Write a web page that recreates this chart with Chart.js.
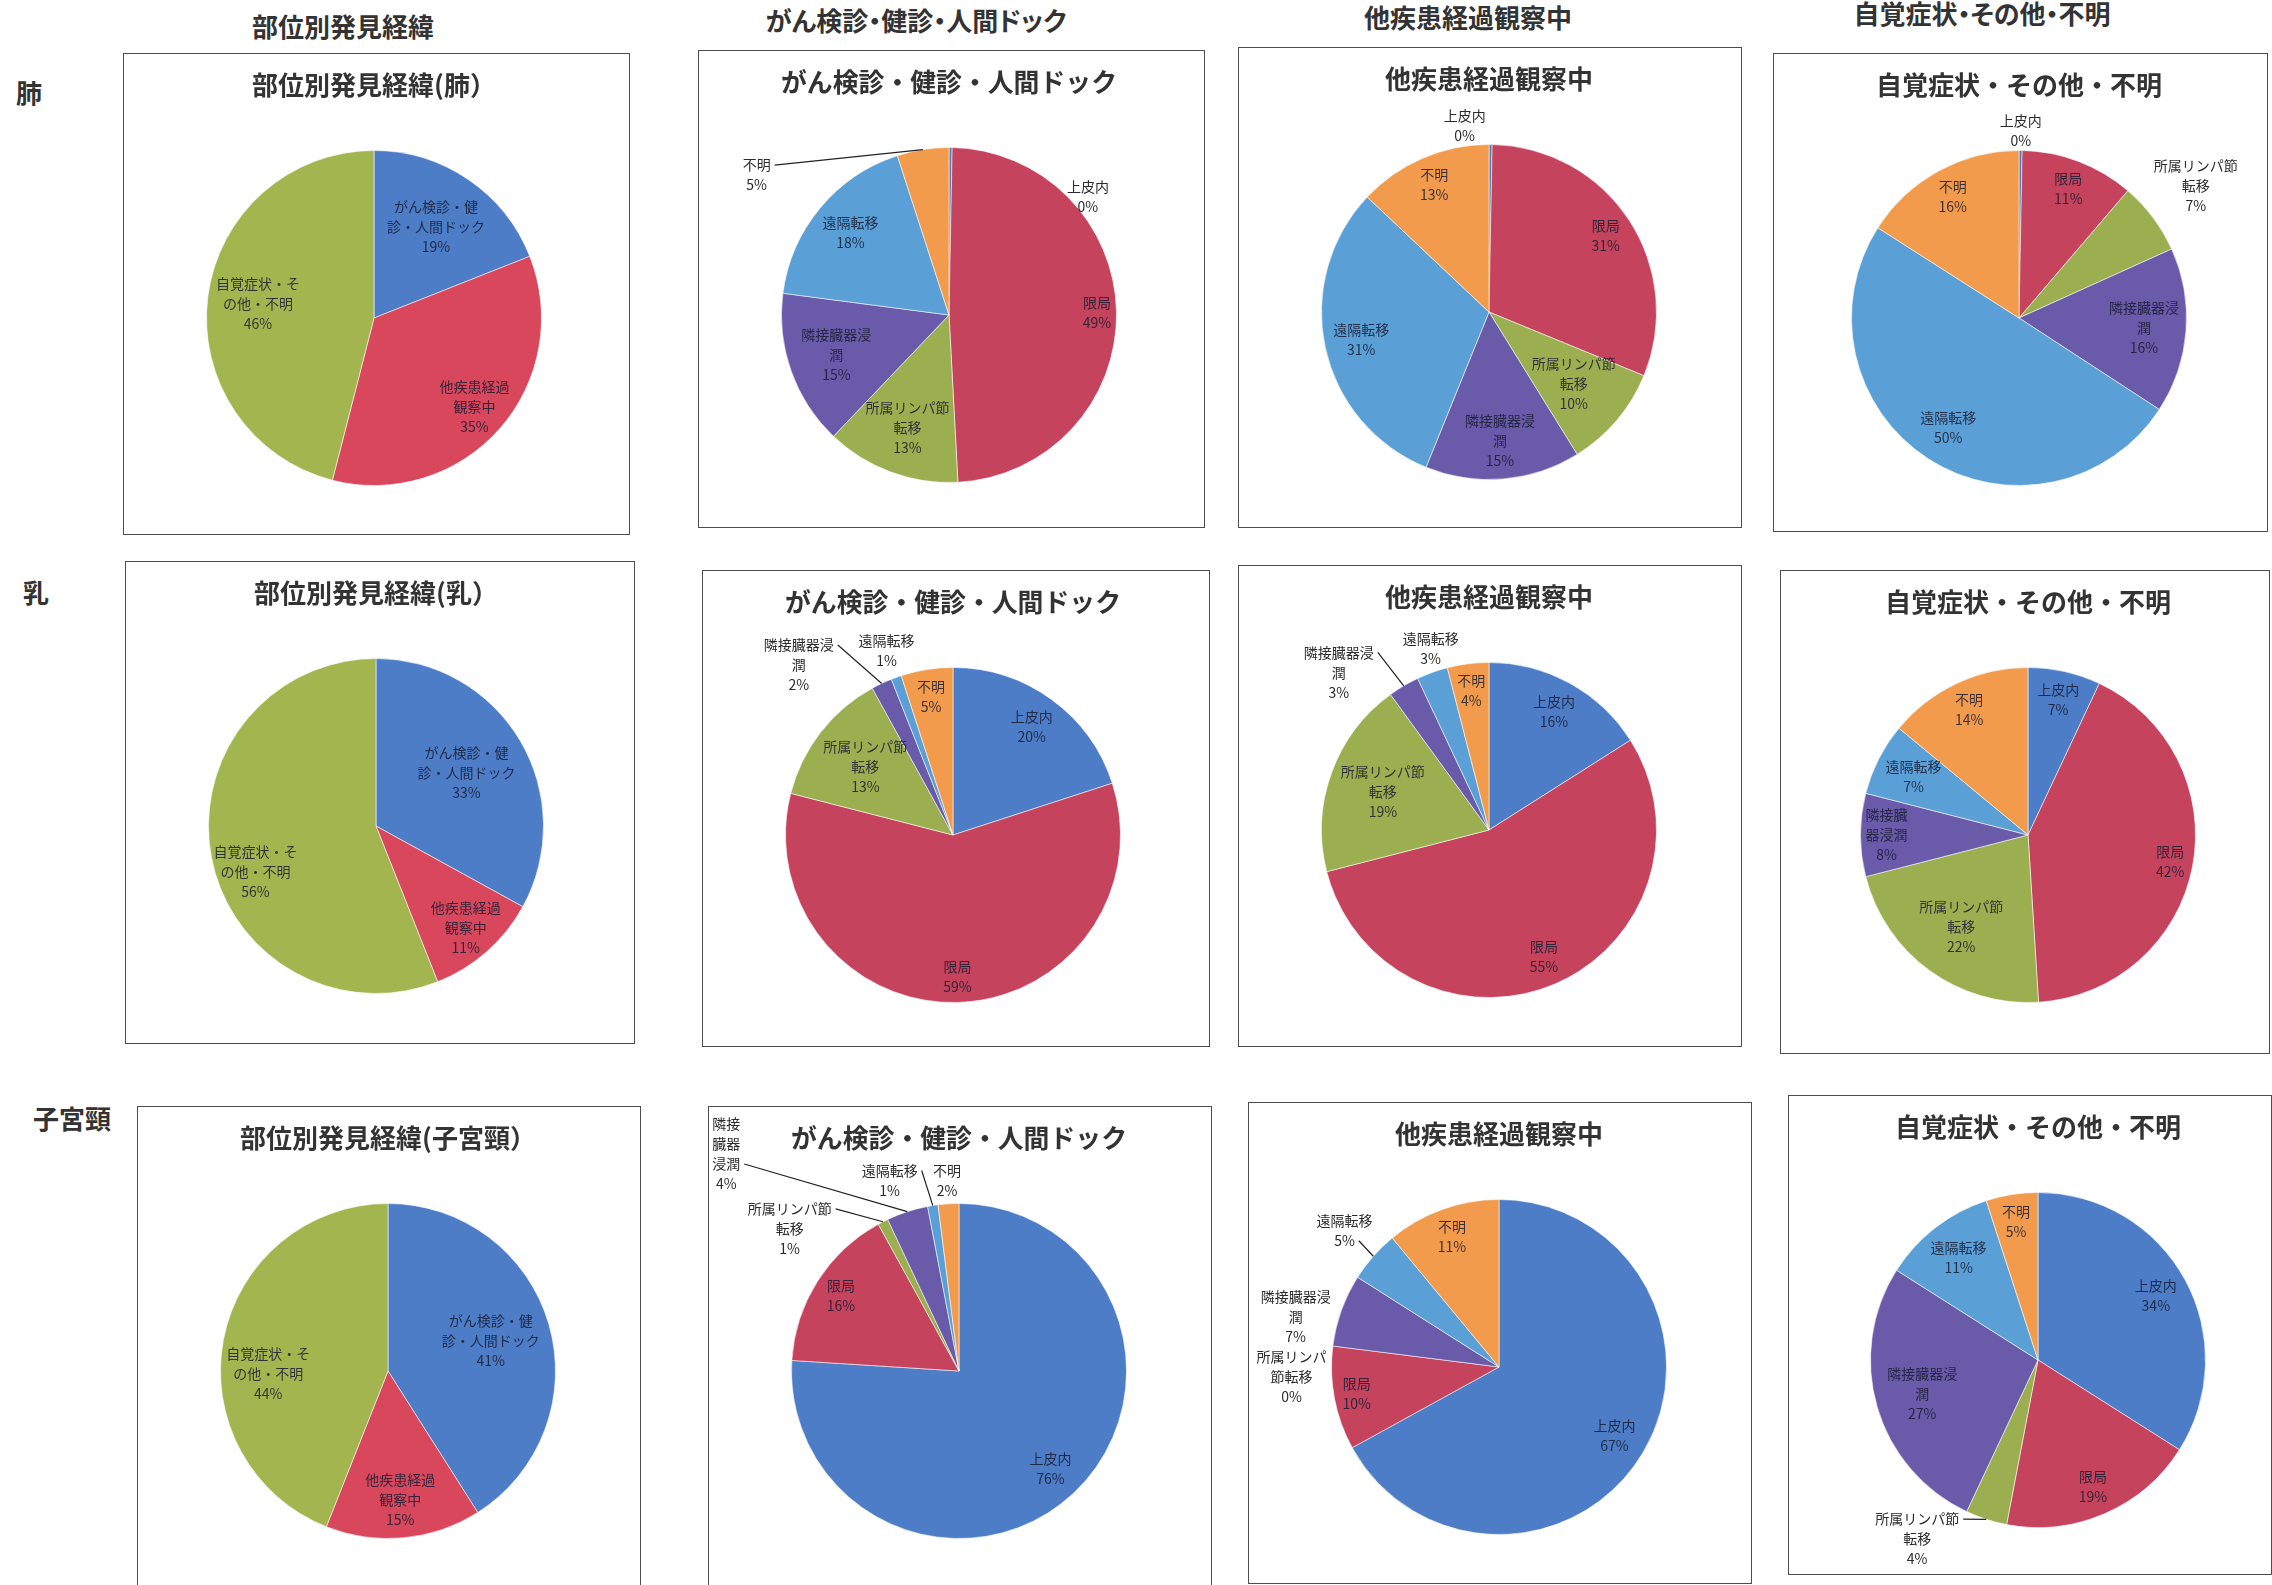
<!DOCTYPE html>
<html lang="ja">
<head>
<meta charset="utf-8">
<title>部位別発見経緯</title>
<script src="https://cdn.jsdelivr.net/npm/chart.js@4.4.1/dist/chart.umd.min.js"></script>
<style>
  html, body { margin: 0; padding: 0; background: #fff; }
  #page { position: relative; width: 2272px; height: 1585px; overflow: hidden;
          font-family: "Noto Sans CJK JP", "Noto Sans", sans-serif; color: #333; }
  .head { position: absolute; font-weight: bold; font-size: 26px; white-space: nowrap;
          font-feature-settings: "palt"; transform: translate(-50%, -50%); }
  .panel { position: absolute; box-sizing: border-box; border: 1.5px solid #4d4d4d; background: #fff; }
  .panel canvas { position: absolute; left: 0; top: 0; }
</style>
</head>
<body>
<div id="page"></div>
<script>
const FONT = '"Noto Sans CJK JP", "Noto Sans", sans-serif';

// categories
const routeCategories = ['がん検診・健診・人間ドック', '他疾患経過観察中', '自覚症状・その他・不明'];
const stageCategories = ['上皮内', '限局', '所属リンパ節転移', '隣接臓器浸潤', '遠隔転移', '不明'];

const columnTitles = ['部位別発見経緯', 'がん検診・健診・人間ドック', '他疾患経過観察中', '自覚症状・その他・不明'];
const siteNames = ['肺', '乳', '子宮頸'];

// % by discovery route
const lungRoute   = [19, 35, 46];
const breastRoute = [33, 11, 56];
const cervixRoute = [41, 15, 44];

// % by stage for each route (0% slices that still show a sliver get a tiny value)
const lungScreening   = [0.3, 49, 13, 15, 18, 5];
const lungOther       = [0.3, 31, 10, 15, 31, 13];
const lungSymptom     = [0.3, 11, 7, 16, 50, 16];
const breastScreening = [20, 59, 13, 2, 1, 5];
const breastOther     = [16, 55, 19, 3, 3, 4];
const breastSymptom   = [7, 42, 22, 8, 7, 14];
const cervixScreening = [76, 16, 1, 4, 1, 2];
const cervixOther     = [67, 10, 0, 7, 5, 11];
const cervixSymptom   = [34, 19, 4, 27, 11, 5];

const routeColors = ['#4C7DC6', '#D9475D', '#A3B54E'];
const stageColors = ['#4C7DC6', '#C6435D', '#9BAF50', '#6A5AAA', '#5A9FD6', '#F29B4C'];

// how the labels break into lines, like the Excel originals
const defaultWrap = {
  'がん検診・健診・人間ドック': ['がん検診・健', '診・人間ドック'],
  '他疾患経過観察中': ['他疾患経過', '観察中'],
  '自覚症状・その他・不明': ['自覚症状・そ', 'の他・不明'],
  '所属リンパ節転移': ['所属リンパ節', '転移'],
  '隣接臓器浸潤': ['隣接臓器浸', '潤']
};

const page = document.getElementById('page');

function addHead(text, x, y) {
  const d = document.createElement('div');
  d.className = 'head';
  d.textContent = text;
  d.style.left = x + 'px';
  d.style.top = y + 'px';
  page.appendChild(d);
}

[[343, 25], [916, 19], [1468, 16], [1982, 12]].forEach((p, i) => addHead(columnTitles[i], p[0], p[1]));
[[29, 91], [36, 591], [72, 1117]].forEach((p, i) => addHead(siteNames[i], p[0], p[1]));

// data labels drawn at each arc (inside, or pushed out with an optional leader line)
const sliceLabels = {
  id: 'sliceLabels',
  afterDatasetsDraw(chart, args, opts) {
    const ctx = chart.ctx;
    const ds = chart.data.datasets[0];
    const total = ds.data.reduce((a, b) => a + b, 0);
    const lh = opts.lineHeight;
    ctx.save();
    ctx.font = opts.size + 'px ' + FONT;
    ctx.textAlign = 'center';
    ctx.textBaseline = 'middle';
    chart.getDatasetMeta(0).data.forEach((arc, i) => {
      const {x, y, startAngle, endAngle, outerRadius} =
        arc.getProps(['x', 'y', 'startAngle', 'endAngle', 'outerRadius'], true);
      const name = chart.data.labels[i];
      const lines = (opts.wrap[name] || [name]).concat(Math.round(ds.data[i] / total * 100) + '%');
      const widths = lines.map(s => ctx.measureText(s).width);
      const w = Math.max(...widths);
      const h = lines.length * lh;
      const mid = (startAngle + endAngle) / 2;
      const p = opts.place[i] || {};
      const ang = mid + (p.a || 0) * Math.PI / 180;
      const c = Math.cos(ang), s = Math.sin(ang);
      const d = p.r ? p.r * outerRadius
                    : 0.97 * outerRadius - (Math.abs(c) * w + Math.abs(s) * h) / 2;
      const lx = x + c * d, ly = y + s * d;
      const lineY = k => ly - h / 2 + lh * (k + 0.5);
      if (p.line) {
        const ax = x + Math.cos(mid) * outerRadius, ay = y + Math.sin(mid) * outerRadius;
        // attach to the side of one text line (nearest one unless told)
        let k = p.at;
        if (k === undefined) {
          k = 0;
          lines.forEach((t, j) => { if (Math.abs(lineY(j) - ay) < Math.abs(lineY(k) - ay)) k = j; });
        }
        const half = widths[k] / 2 + 4;
        const bx = ax > lx ? lx + half : lx - half;
        ctx.beginPath();
        ctx.moveTo(bx, lineY(k));
        ctx.lineTo(ax, ay);
        ctx.strokeStyle = '#222';
        ctx.lineWidth = 1.2;
        ctx.stroke();
      }
      ctx.fillStyle = p.r > 1 ? '#2b2b2b' : 'rgba(25, 28, 50, 0.85)';
      lines.forEach((t, k) => ctx.fillText(t, lx, lineY(k)));
    });
    ctx.restore();
  }
};

const panels = [
  {x: 123, y: 53, w: 507, h: 482, title: '部位別発見経緯(肺）', labels: routeCategories, data: lungRoute, colors: routeColors,
   place: {1: {r: 0.8}}},
  {x: 698, y: 50, w: 507, h: 478, title: 'がん検診・健診・人間ドック', labels: stageCategories, data: lungScreening, colors: stageColors,
   place: {0: {r: 1.09, a: 49}, 5: {r: 1.42, a: -45, line: true, at: 0}}},
  {x: 1238, y: 47, w: 504, h: 481, title: '他疾患経過観察中', labels: stageCategories, data: lungOther, colors: stageColors,
   place: {0: {r: 1.12, a: -8}}},
  {x: 1773, y: 53, w: 495, h: 479, cx: 245, title: '自覚症状・その他・不明', labels: stageCategories, data: lungSymptom, colors: stageColors,
   place: {0: {r: 1.12, a: 0}, 2: {r: 1.32, a: 0}}},

  {x: 125, y: 561, w: 510, h: 483, title: '部位別発見経緯(乳）', labels: routeCategories, data: breastRoute, colors: routeColors,
   place: {1: {r: 0.81}, 2: {r: 0.77, a: -10}}},
  {x: 702, y: 570, w: 508, h: 477, title: 'がん検診・健診・人間ドック', labels: stageCategories, data: breastScreening, colors: stageColors,
   place: {3: {r: 1.37, a: -17, line: true, at: 0}, 4: {r: 1.17, a: 0}}},
  {x: 1238, y: 565, w: 504, h: 482, title: '他疾患経過観察中', labels: stageCategories, data: breastOther, colors: stageColors,
   place: {3: {r: 1.30, a: -13, line: true, at: 0}, 4: {r: 1.14, a: 2}}},
  {x: 1780, y: 570, w: 490, h: 484, cx: 247, title: '自覚症状・その他・不明', labels: stageCategories, data: breastSymptom, colors: stageColors,
   place: {}, wrap: {'隣接臓器浸潤': ['隣接臓', '器浸潤']}},

  {x: 137, y: 1106, w: 504, h: 482, title: '部位別発見経緯(子宮頸）', labels: routeCategories, data: cervixRoute, colors: routeColors,
   place: {2: {a: -12}}},
  {x: 708, y: 1106, w: 504, h: 482, title: 'がん検診・健診・人間ドック', labels: stageCategories, data: cervixScreening, colors: stageColors,
   place: {2: {r: 1.32, a: -23, line: true, at: 0}, 3: {r: 1.9, a: -29, line: true, at: 2},
           4: {r: 1.21, a: -11, line: true, at: 0}, 5: {r: 1.14, a: 0}},
   wrap: {'隣接臓器浸潤': ['隣接', '臓器', '浸潤']}},
  {x: 1248, y: 1102, w: 504, h: 482, title: '他疾患経過観察中', labels: stageCategories, data: cervixOther, colors: stageColors,
   place: {2: {r: 1.24, a: -10}, 3: {r: 1.25, a: -6}, 4: {r: 1.23, a: 0, line: true}},
   wrap: {'所属リンパ節転移': ['所属リンパ', '節転移']}},
  {x: 1788, y: 1095, w: 484, h: 480, cx: 249, title: '自覚症状・その他・不明', labels: stageCategories, data: cervixSymptom, colors: stageColors,
   place: {2: {r: 1.29, a: 16, line: true, at: 0}}}
];

panels.forEach(p => {
  const div = document.createElement('div');
  div.className = 'panel';
  Object.assign(div.style, {left: p.x + 'px', top: p.y + 'px', width: p.w + 'px', height: p.h + 'px'});
  const cv = document.createElement('canvas');
  const W = p.w - 3, H = p.h - 3;
  cv.width = W;
  cv.height = H;
  cv.style.width = W + 'px';
  cv.style.height = H + 'px';
  div.appendChild(cv);
  page.appendChild(div);

  const cx = p.cx || 250, cy = 264, r = 168, titleY = 31;

  new Chart(cv, {
    type: 'pie',
    data: {
      labels: p.labels,
      datasets: [{
        data: p.data,
        backgroundColor: p.colors,
        borderColor: 'rgba(255,255,255,0.55)',
        borderWidth: 1
      }]
    },
    options: {
      responsive: false,
      animation: false,
      layout: {padding: {left: cx - r, right: W - cx - r, top: 0, bottom: H - cy - r}},
      plugins: {
        legend: {display: false},
        tooltip: {enabled: false},
        title: {
          display: true,
          text: p.title,
          color: '#333',
          font: {family: FONT, size: 26, weight: 'bold'},
          padding: {top: titleY - 15.6, bottom: cy - r - titleY - 15.6}
        },
        sliceLabels: {
          size: 14,
          lineHeight: 20,
          place: p.place,
          wrap: Object.assign({}, defaultWrap, p.wrap || {})
        }
      }
    },
    plugins: [sliceLabels]
  });
});
</script>
</body>
</html>
